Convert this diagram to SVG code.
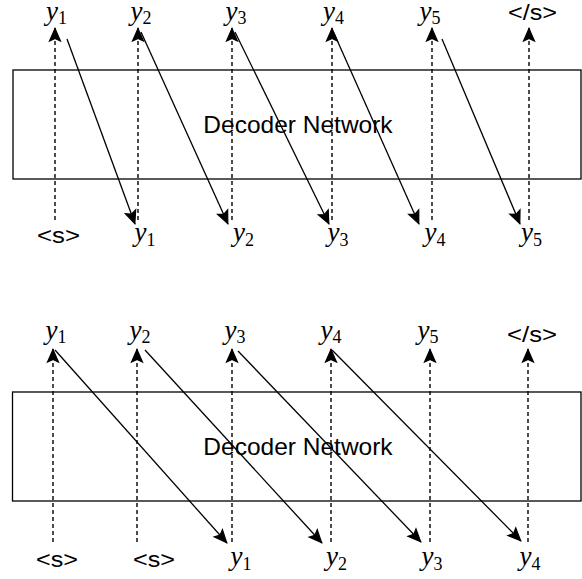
<svg xmlns="http://www.w3.org/2000/svg" width="582" height="579" viewBox="0 0 582 579">
<style>
.box{fill:#fff;stroke:#000;stroke-width:1.3}
.dash{stroke:#000;stroke-width:1.4;stroke-dasharray:4 3;fill:none}
.solid{stroke:#000;stroke-width:1.3;fill:none}
.lbl{font-family:"Liberation Sans",Arial,sans-serif;font-size:24.5px;fill:#000}
.tag{font-family:"Liberation Sans",Arial,sans-serif;font-size:22px;fill:#000}
.y{font-family:"Liberation Serif","Times New Roman",serif;font-size:27px;fill:#000}
.y .v{font-style:italic}
.y .s{font-size:18px}
</style>
<defs>
<marker id="ah" viewBox="-15 -8 16 16" markerWidth="16" markerHeight="16" refX="0" refY="0" orient="auto" markerUnits="userSpaceOnUse">
<path d="M-0.5,0 L-13,-5.5 L-10.5,0 L-13,5.5 Z" fill="#000" stroke="#000" stroke-width="1.2" stroke-linejoin="miter"/>
</marker>
</defs>

<!-- Top diagram -->
<g id="decoder1">
<rect class="box" x="13" y="70" width="568" height="109"/>
<text class="lbl" x="298" y="133" text-anchor="middle">Decoder Network</text>
</g>
<g id="top1-labels">
<text class="y" x="56.5" y="20" text-anchor="middle"><tspan class="v">y</tspan><tspan class="s" dy="4">1</tspan></text>
<text class="y" x="141" y="20" text-anchor="middle"><tspan class="v">y</tspan><tspan class="s" dy="4">2</tspan></text>
<text class="y" x="236" y="20" text-anchor="middle"><tspan class="v">y</tspan><tspan class="s" dy="4">3</tspan></text>
<text class="y" x="333.5" y="20" text-anchor="middle"><tspan class="v">y</tspan><tspan class="s" dy="4">4</tspan></text>
<text class="y" x="430" y="20" text-anchor="middle"><tspan class="v">y</tspan><tspan class="s" dy="4">5</tspan></text>
<text class="tag" x="508" y="20" textLength="49" lengthAdjust="spacingAndGlyphs">&lt;/s&gt;</text>
</g>
<g id="bottom1-labels">
<text class="tag" x="37" y="243" textLength="43" lengthAdjust="spacingAndGlyphs">&lt;s&gt;</text>
<text class="y" x="145" y="241" text-anchor="middle"><tspan class="v">y</tspan><tspan class="s" dy="5">1</tspan></text>
<text class="y" x="243.5" y="241" text-anchor="middle"><tspan class="v">y</tspan><tspan class="s" dy="5">2</tspan></text>
<text class="y" x="338" y="241" text-anchor="middle"><tspan class="v">y</tspan><tspan class="s" dy="5">3</tspan></text>
<text class="y" x="435" y="241" text-anchor="middle"><tspan class="v">y</tspan><tspan class="s" dy="5">4</tspan></text>
<text class="y" x="531.5" y="241" text-anchor="middle"><tspan class="v">y</tspan><tspan class="s" dy="5">5</tspan></text>
</g>
<g id="connectors1">
<line class="dash" x1="55" y1="220" x2="55" y2="28" marker-end="url(#ah)"/>
<line class="dash" x1="138" y1="220" x2="138" y2="28" marker-end="url(#ah)"/>
<line class="dash" x1="232" y1="220" x2="232" y2="28" marker-end="url(#ah)"/>
<line class="dash" x1="332" y1="220" x2="332" y2="28" marker-end="url(#ah)"/>
<line class="dash" x1="432" y1="220" x2="432" y2="28" marker-end="url(#ah)"/>
<line class="dash" x1="529" y1="220" x2="529" y2="28" marker-end="url(#ah)"/>
<line class="solid" x1="67" y1="39" x2="135" y2="224" marker-end="url(#ah)"/>
<line class="solid" x1="141" y1="32" x2="228" y2="224" marker-end="url(#ah)"/>
<line class="solid" x1="235" y1="32" x2="329" y2="224" marker-end="url(#ah)"/>
<line class="solid" x1="333" y1="31" x2="419" y2="224" marker-end="url(#ah)"/>
<line class="solid" x1="442" y1="39" x2="520" y2="224" marker-end="url(#ah)"/>
</g>

<!-- Bottom diagram -->
<g id="decoder2">
<rect class="box" x="12.5" y="392" width="568.5" height="109"/>
<text class="lbl" x="298" y="455" text-anchor="middle">Decoder Network</text>
</g>
<g id="top2-labels">
<text class="y" x="56" y="339" text-anchor="middle"><tspan class="v">y</tspan><tspan class="s" dy="4">1</tspan></text>
<text class="y" x="140" y="339" text-anchor="middle"><tspan class="v">y</tspan><tspan class="s" dy="4">2</tspan></text>
<text class="y" x="235" y="339" text-anchor="middle"><tspan class="v">y</tspan><tspan class="s" dy="4">3</tspan></text>
<text class="y" x="331" y="339" text-anchor="middle"><tspan class="v">y</tspan><tspan class="s" dy="4">4</tspan></text>
<text class="y" x="428" y="339" text-anchor="middle"><tspan class="v">y</tspan><tspan class="s" dy="4">5</tspan></text>
<text class="tag" x="507" y="342" textLength="50" lengthAdjust="spacingAndGlyphs">&lt;/s&gt;</text>
</g>
<g id="bottom2-labels">
<text class="tag" x="36" y="567" textLength="42" lengthAdjust="spacingAndGlyphs">&lt;s&gt;</text>
<text class="tag" x="133" y="567" textLength="42" lengthAdjust="spacingAndGlyphs">&lt;s&gt;</text>
<text class="y" x="241" y="565" text-anchor="middle"><tspan class="v">y</tspan><tspan class="s" dy="5">1</tspan></text>
<text class="y" x="336.5" y="565" text-anchor="middle"><tspan class="v">y</tspan><tspan class="s" dy="5">2</tspan></text>
<text class="y" x="432" y="565" text-anchor="middle"><tspan class="v">y</tspan><tspan class="s" dy="5">3</tspan></text>
<text class="y" x="530" y="565" text-anchor="middle"><tspan class="v">y</tspan><tspan class="s" dy="5">4</tspan></text>
</g>
<g id="connectors2">
<line class="dash" x1="53" y1="542" x2="53" y2="349" marker-end="url(#ah)"/>
<line class="dash" x1="137" y1="542" x2="137" y2="349" marker-end="url(#ah)"/>
<line class="dash" x1="232" y1="542" x2="232" y2="349" marker-end="url(#ah)"/>
<line class="dash" x1="331" y1="542" x2="331" y2="349" marker-end="url(#ah)"/>
<line class="dash" x1="430" y1="542" x2="430" y2="349" marker-end="url(#ah)"/>
<line class="dash" x1="528" y1="542" x2="528" y2="349" marker-end="url(#ah)"/>
<line class="solid" x1="55" y1="350" x2="227" y2="543" marker-end="url(#ah)"/>
<line class="solid" x1="145" y1="350" x2="322" y2="543" marker-end="url(#ah)"/>
<line class="solid" x1="238" y1="351" x2="421" y2="542" marker-end="url(#ah)"/>
<line class="solid" x1="332" y1="350" x2="521" y2="541" marker-end="url(#ah)"/>
</g>
</svg>
